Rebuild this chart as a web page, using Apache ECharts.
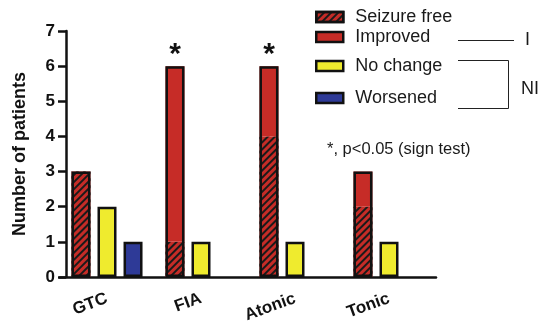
<!DOCTYPE html>
<html><head><meta charset="utf-8">
<script src="https://cdn.jsdelivr.net/npm/echarts@6/dist/echarts.min.js"></script>
<style>html,body{margin:0;padding:0;background:#fff}#c{width:543px;height:326px}</style>
</head><body><div id="c"></div>
<script>
const categories = ['GTC', 'FIA', 'Atonic', 'Tonic'];
const seizureFree = [3, 1, 4, 2];
const improved = [0, 5, 2, 1];
const noChange = [2, 1, 1, 1];
const worsened = [1, 0, 0, 0];
const significance = ['', '*', '*', ''];
const yTicks = [0, 1, 2, 3, 4, 5, 6, 7];

const RED = '#C62C27', YEL = '#EFEB2E', BLUE = '#2E3A97', INK = '#111';
const FONT = '"Liberation Sans", Arial, Helvetica, sans-serif';
const nz = a => a.map(v => v === 0 ? '-' : v);
const totals = seizureFree.map((v, i) => v + improved[i]);
const hatch = { symbol: 'rect', symbolSize: 1, color: '#1a1a1a', dashArrayX: [1, 0], dashArrayY: [2, 2.5], rotation: -Math.PI / 4 };
const BW = 19, GAP = '37%';

const chart = echarts.init(document.getElementById('c'), null, { renderer: 'canvas' });
chart.setOption({
  animation: false,
  textStyle: { fontFamily: FONT },
  grid: { left: 60, top: 31, width: 376, bottom: 49, outerBoundsMode: 'none', containLabel: false },
  xAxis: [{
    type: 'category', data: categories, gridIndex: 0,
    axisLine: { lineStyle: { color: INK, width: 2.5 } },
    axisTick: { alignWithLabel: true, length: 8, lineStyle: { color: INK, width: 2.5 } },
    axisLabel: { rotate: 20, margin: 21, fontSize: 17, fontWeight: 'bold', color: INK, fontFamily: FONT }
  }, {
    type: 'category', data: categories, gridIndex: 0, show: false
  }],
  yAxis: {
    type: 'value', min: yTicks[0], max: yTicks[yTicks.length - 1], interval: 1, offset: -6,
    name: 'Number of patients', nameLocation: 'middle', nameGap: 37,
    nameTextStyle: { fontSize: 18, fontWeight: 'bold', color: INK, fontFamily: FONT },
    splitLine: { show: false },
    axisLine: { show: true, lineStyle: { color: INK, width: 2.5 } },
    axisTick: { show: true, length: 8, lineStyle: { color: INK, width: 2.5 } },
    axisLabel: { margin: 11, fontSize: 17, fontWeight: 'bold', color: INK, fontFamily: FONT }
  },
  legend: [{
    data: ['Seizure free', 'Improved'], orient: 'vertical', left: 315, top: 8, padding: 0,
    itemWidth: 27, itemHeight: 10, itemGap: 2, icon: 'rect',
    itemStyle: { borderColor: INK, borderWidth: 2.5 },
    textStyle: { fontSize: 18, color: '#1a1a1a', fontFamily: FONT, padding: [0, 0, 0, 7] }
  }, {
    data: ['No change', 'Worsened'], orient: 'vertical', left: 315, top: 57, padding: 0,
    itemWidth: 27, itemHeight: 10, itemGap: 14, icon: 'rect',
    itemStyle: { borderColor: INK, borderWidth: 2.5 },
    textStyle: { fontSize: 18, color: '#1a1a1a', fontFamily: FONT, padding: [0, 0, 0, 7] }
  }],
  series: [
    { name: 'Seizure free', type: 'bar', stack: 'r', xAxisIndex: 0, data: nz(seizureFree), barWidth: BW, barGap: GAP,
      itemStyle: { color: RED, decal: hatch } },
    { name: 'Improved', type: 'bar', stack: 'r', xAxisIndex: 0, data: nz(improved), barWidth: BW, barGap: GAP,
      itemStyle: { color: RED } },
    { name: 'No change', type: 'bar', xAxisIndex: 0, data: nz(noChange), barWidth: BW, barGap: GAP,
      itemStyle: { color: YEL, borderColor: INK, borderWidth: 2.5 } },
    { name: 'Worsened', type: 'bar', xAxisIndex: 0, data: nz(worsened), barWidth: BW, barGap: GAP,
      itemStyle: { color: BLUE, borderColor: INK, borderWidth: 2.5 } },
    { name: 'outline', type: 'bar', xAxisIndex: 1, data: nz(totals), barWidth: BW, barGap: GAP, z: 3,
      itemStyle: { color: 'rgba(0,0,0,0)', borderColor: INK, borderWidth: 2.5 },
      label: { show: true, position: 'top', distance: -4, fontSize: 30, fontWeight: 'bold', color: INK, fontFamily: FONT,
        formatter: p => significance[p.dataIndex] } },
    { name: 'p1', type: 'bar', xAxisIndex: 1, data: [], barWidth: BW, barGap: GAP },
    { name: 'p2', type: 'bar', xAxisIndex: 1, data: [], barWidth: BW, barGap: GAP }
  ],
  graphic: [
    { type: 'line', shape: { x1: 458, y1: 40.5, x2: 514, y2: 40.5 }, style: { stroke: '#222', lineWidth: 1 } },
    { type: 'text', left: 525, top: 31, style: { text: 'I', fill: '#1a1a1a', font: '18px ' + FONT } },
    { type: 'polyline', shape: { points: [[458, 60.5], [508.5, 60.5], [508.5, 108.5], [458, 108.5]] }, style: { stroke: '#222', lineWidth: 1, fill: null } },
    { type: 'text', left: 521, top: 80, style: { text: 'NI', fill: '#1a1a1a', font: '18px ' + FONT } },
    { type: 'text', left: 327, top: 141, style: { text: '*, p<0.05 (sign test)', fill: '#1a1a1a', font: '16.5px ' + FONT } }
  ]
});
</script></body></html>
